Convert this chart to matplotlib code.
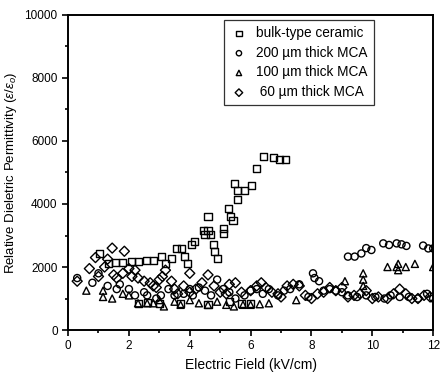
import matplotlib
matplotlib.use("Agg")
import matplotlib.pyplot as plt
from matplotlib.ticker import MultipleLocator

plt.rcParams['font.family'] = ['Liberation Sans', 'DejaVu Sans']
plt.rcParams['mathtext.fontset'] = 'custom'
plt.rcParams['mathtext.rm'] = 'Liberation Sans'
plt.rcParams['mathtext.it'] = 'Liberation Sans:italic'

# bulk-type ceramic (squares)
bulk_x = [1.04, 1.32, 1.55, 1.8, 2.08, 2.3, 2.58, 2.8, 3.07, 3.2, 3.4, 3.56, 3.73,
          3.84, 3.92, 4.05, 4.16, 4.44, 4.5, 4.6, 4.6, 4.68, 4.77, 4.82, 4.9, 5.1,
          5.12, 5.26, 5.35, 5.42, 5.48, 5.56, 5.56, 5.81, 6.03, 6.19, 6.41, 6.74,
          6.96, 7.16, 2.3, 2.6, 3.0, 3.7, 4.6, 5.3, 5.7, 6.0]
bulk_y = [2430, 2120, 2150, 2150, 2170, 2170, 2220, 2220, 2330, 2120, 2280, 2600,
          2600, 2330, 2120, 2700, 2800, 3170, 3020, 3600, 3170, 3020, 2700, 2490,
          2280, 3230, 3070, 3860, 3600, 3490, 4660, 4440, 4130, 4440, 4600, 5130,
          5500, 5480, 5420, 5400, 830, 870, 850, 830, 820, 900, 830, 830]

# 200 um thick MCA (circles)
mca200_x = [0.3, 0.8, 1.0, 1.3, 1.6, 1.7, 2.0, 2.2, 2.5, 2.6, 2.9, 3.05, 3.3, 3.5,
            3.8, 4.0, 4.1, 4.3, 4.5, 4.7, 4.9, 5.1, 5.3, 5.5, 5.8, 6.0, 6.2, 6.4,
            6.6, 6.9, 7.1, 7.3, 7.6, 7.9, 8.05, 8.1, 8.25, 8.4, 8.6, 8.8, 9.0, 9.2,
            9.5, 9.8, 10.1, 10.4, 10.6, 10.9, 11.2, 11.5, 11.8, 12.0,
            9.2, 9.42, 9.64, 9.8, 9.97, 10.36, 10.55, 10.8, 10.96, 11.12, 11.67,
            11.84, 12.0]
mca200_y = [1650, 1500, 1800, 1400, 1300, 1450, 1300, 1100, 1200, 1100, 1000, 1100,
            1300, 1100, 1150, 1300, 1100, 1350, 1250, 1100, 1600, 1300, 1200, 1000,
            1100, 1250, 1300, 1150, 1300, 1100, 1250, 1300, 1450, 1050, 1800, 1650,
            1550, 1250, 1300, 1250, 1200, 1100, 1050, 1100, 1050, 1000, 1100, 1050,
            1050, 1000, 1150, 1000,
            2330, 2330, 2430, 2600, 2540, 2750, 2700, 2750, 2720, 2670, 2680, 2590,
            2590]

# 100 um thick MCA (triangles)
mca100_x = [0.6, 1.15, 1.15, 1.45, 1.8, 2.0, 2.3, 2.6, 2.8, 3.0, 3.15, 3.5, 3.7,
            4.0, 4.3, 4.6, 4.9, 5.2, 5.45, 5.75, 6.0, 6.3, 6.6, 7.5, 9.1, 9.7, 9.7,
            9.7, 10.5, 10.8, 10.85, 10.85, 11.1, 11.4, 12.0]
mca100_y = [1250, 1250, 1050, 1000, 1150, 1100, 850, 850, 850, 950, 750, 900, 800,
            950, 850, 800, 900, 800, 750, 800, 800, 820, 850, 950, 1550, 1800, 1600,
            1400, 2000, 2000, 2100, 1900, 2000, 2100, 2000]

# 60 um thick MCA (diamonds)
mca60_x = [0.3, 0.7, 0.9, 1.0, 1.2, 1.3, 1.45, 1.5, 1.6, 1.85, 1.8, 2.0, 2.1, 2.2,
           2.3, 2.5, 2.7, 2.8, 2.9, 3.0, 3.1, 3.2, 3.4, 3.5, 3.6, 3.8, 4.0, 4.0,
           4.2, 4.4, 4.6, 4.8, 5.0, 5.2, 5.3, 5.5, 5.7, 6.0, 6.2, 6.35, 6.5, 6.7,
           6.9, 7.0, 7.2, 7.4, 7.6, 7.8, 8.0, 8.2, 8.4, 8.6, 8.8, 9.0, 9.2, 9.4,
           9.6, 9.8, 10.0, 10.2, 10.5, 10.7, 10.9, 11.1, 11.3, 11.5, 11.7, 11.9]
mca60_y = [1550, 1950, 2300, 1700, 2000, 2250, 2600, 1750, 1650, 2500, 1800, 1950,
           1700, 1900, 1650, 1550, 1500, 1400, 1350, 1600, 1700, 1900, 1550, 1300,
           1150, 1400, 1800, 1200, 1300, 1500, 1750, 1400, 1200, 1150, 1450, 1500,
           1200, 1250, 1400, 1500, 1350, 1200, 1150, 1050, 1400, 1450, 1400, 1100,
           1000, 1150, 1200, 1350, 1250, 1350, 1050, 1100, 1150, 1250, 1000, 1050,
           1000, 1150, 1300, 1150, 1000, 1000, 1100, 1050]

fig = plt.figure(figsize=(4.42, 3.82), dpi=100)
ax = fig.add_axes([0.154, 0.136, 0.826, 0.825])

kw = dict(facecolor='none', edgecolor='black', linewidths=1.0, s=26)
ax.scatter(bulk_x, bulk_y, marker='s', label='bulk-type ceramic', **kw)
ax.scatter(mca200_x, mca200_y, marker='o', label='200 \u00b5m thick MCA', **kw)
ax.scatter(mca100_x, mca100_y, marker='^', label='100 \u00b5m thick MCA', **kw)
ax.scatter(mca60_x, mca60_y, marker='D', label=' 60 \u00b5m thick MCA', **kw)

ax.set_xlim(0, 12)
ax.set_ylim(0, 10000)
ax.xaxis.set_major_locator(MultipleLocator(2))
ax.xaxis.set_minor_locator(MultipleLocator(1))
ax.yaxis.set_major_locator(MultipleLocator(2000))
ax.yaxis.set_minor_locator(MultipleLocator(1000))
ax.tick_params(which='both', direction='out', width=1.2, labelsize=8.5)
ax.tick_params(which='major', length=4)
ax.tick_params(which='minor', length=2.5)
for sp in ax.spines.values():
    sp.set_linewidth(1.4)

ax.set_xlabel('Electric Field (kV/cm)', fontsize=10)
ax.set_ylabel(r'Relative Dieletric Permittivity ($\varepsilon/\varepsilon_o$)', fontsize=9.5)

leg = ax.legend(loc='upper left', bbox_to_anchor=(0.427, 0.984), borderaxespad=0,
                fontsize=9.8, frameon=True, fancybox=False, edgecolor='black',
                handletextpad=0.6, borderpad=0.45, labelspacing=0.42,
                handlelength=1.3, markerscale=0.75)
leg.get_frame().set_linewidth(0.9)

fig.savefig('out.png', dpi=100)
